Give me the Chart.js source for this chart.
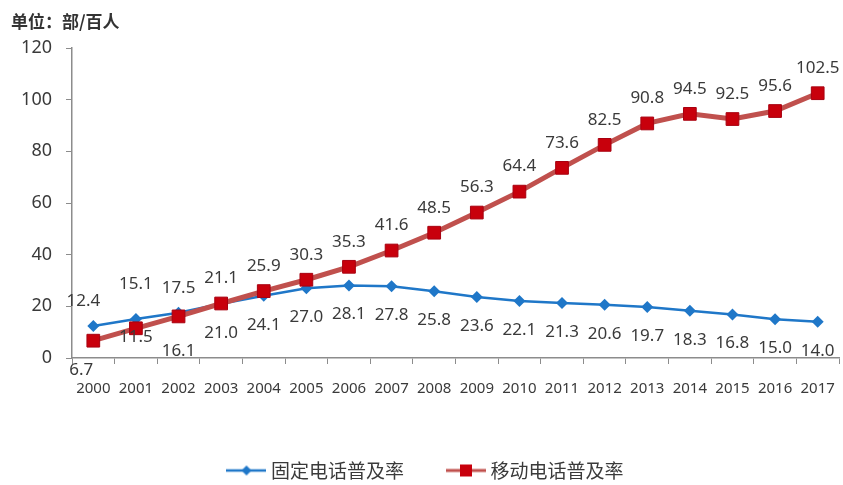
<!DOCTYPE html>
<html>
<head>
<meta charset="utf-8">
<script src="https://cdn.jsdelivr.net/npm/chart.js@4/dist/chart.umd.min.js"></script>
<style>
  html, body { margin: 0; padding: 0; background: #fff; }
  #wrap { width: 843px; height: 485px; position: relative; }
</style>
</head>
<body>
<div id="wrap"><canvas id="chart"></canvas></div>
<script>
// data
const years = ['2000', '2001', '2002', '2003', '2004', '2005', '2006', '2007', '2008',
  '2009', '2010', '2011', '2012', '2013', '2014', '2015', '2016', '2017'];
const fixedRate = [12.4, 15.1, 17.5, 21.0, 24.1, 27.0, 28.1, 27.8, 25.8,
  23.6, 22.1, 21.3, 20.6, 19.7, 18.3, 16.8, 15.0, 14.0];
const mobileRate = [6.7, 11.5, 16.1, 21.1, 25.9, 30.3, 35.3, 41.6, 48.5,
  56.3, 64.4, 73.6, 82.5, 90.8, 94.5, 92.5, 95.6, 102.5];
const seriesNames = ['固定电话普及率', '移动电话普及率'];
const yTicks = [0, 20, 40, 60, 80, 100, 120];

const blue = '#1f77c8';
const lineRed = '#c0504d';
const markRed = '#c8000c';
const textCol = '#3a3a3a';
const numFont = '"Noto Sans", "Liberation Sans", sans-serif';
const cjkFont = '"Noto Sans CJK SC", sans-serif';

// label placement: 'a' above, 'b' below, with a few hand nudges
const fixedPlace = years.map((y, i) => i < 3 ? 'a' : 'b');
const mobilePlace = years.map((y, i) => i < 3 ? 'b' : 'a');
const nudges = {
  '0-0': [-10, 0], '0-1': [0, -10],
  '1-0': [-12, 0], '1-1': [0, -20], '1-2': [0, 6]
};

// legend symbols: line with marker
function legendIcon(color, mark, shape) {
  const c = document.createElement('canvas');
  c.width = 40; c.height = 14;
  const g = c.getContext('2d');
  g.strokeStyle = color;
  g.lineWidth = shape === 'diamond' ? 2.5 : 3;
  g.beginPath(); g.moveTo(0, 7); g.lineTo(40, 7); g.stroke();
  g.fillStyle = mark;
  g.beginPath();
  if (shape === 'diamond') {
    g.moveTo(20, 2); g.lineTo(25, 7); g.lineTo(20, 12); g.lineTo(15, 7);
  } else {
    g.rect(14, 1, 12, 12);
  }
  g.closePath(); g.fill();
  return c;
}

const valueLabels = {
  id: 'valueLabels',
  afterDatasetsDraw(chart) {
    const ctx = chart.ctx;
    ctx.save();
    ctx.font = '17px ' + numFont;
    ctx.fillStyle = textCol;
    ctx.textAlign = 'center';
    ctx.textBaseline = 'middle';
    chart.data.datasets.forEach((ds, di) => {
      const meta = chart.getDatasetMeta(di);
      const place = di === 0 ? fixedPlace : mobilePlace;
      meta.data.forEach((pt, i) => {
        const n = nudges[di + '-' + i] || [0, 0];
        const dy = place[i] === 'a' ? -25 : 29;
        ctx.fillText(ds.data[i].toFixed(1), pt.x + n[0], pt.y + dy + n[1]);
      });
    });
    ctx.restore();
  }
};

const unitTitle = {
  id: 'unitTitle',
  afterDraw(chart) {
    const ctx = chart.ctx;
    ctx.save();
    ctx.font = 'bold 17px ' + cjkFont;
    ctx.fillStyle = '#333';
    ctx.textBaseline = 'middle';
    ctx.fillText('单位：部/百人', 11, 22);
    ctx.restore();
  }
};

new Chart(document.getElementById('chart'), {
  type: 'line',
  data: {
    labels: years,
    datasets: [{
      label: seriesNames[0],
      data: fixedRate,
      borderColor: blue,
      backgroundColor: blue,
      borderWidth: 2.5,
      pointStyle: 'rectRot',
      pointRadius: 6,
      pointBorderWidth: 0,
      pointBackgroundColor: blue,
      order: 2
    }, {
      label: seriesNames[1],
      data: mobileRate,
      borderColor: lineRed,
      backgroundColor: markRed,
      borderWidth: 5,
      pointStyle: 'rect',
      pointRadius: 9,
      pointBorderWidth: 1,
      pointBorderColor: '#a80010',
      pointBackgroundColor: markRed,
      order: 1
    }]
  },
  options: {
    responsive: true,
    maintainAspectRatio: false,
    animation: false,
    layout: { autoPadding: false, padding: { top: 48, right: 4, left: 16, bottom: -5 } },
    scales: {
      x: {
        offset: true,
        grid: { display: true, drawOnChartArea: false, drawTicks: true, tickLength: 6, offset: true, color: '#8c8c8c' },
        border: { display: true, color: '#8c8c8c', width: 1.5 },
        ticks: { color: textCol, font: { size: 15, family: numFont }, padding: 16, maxRotation: 0, autoSkip: false },
        afterFit(s) { s.height = 56; s.paddingLeft = 0; s.paddingRight = 0; }
      },
      y: {
        min: 0,
        max: 120,
        afterBuildTicks(s) { s.ticks = yTicks.map(v => ({ value: v })); },
        grid: { display: true, drawOnChartArea: false, drawTicks: true, tickLength: 6, color: '#8c8c8c' },
        border: { display: true, color: '#8c8c8c', width: 1.5 },
        ticks: { color: textCol, font: { size: 18, family: numFont }, padding: 14 },
        afterFit(s) { s.width = 56; }
      }
    },
    plugins: {
      legend: {
        position: 'bottom',
        labels: {
          usePointStyle: true,
          pointStyleWidth: 30,
          padding: 47,
          color: textCol,
          font: { size: 19, family: cjkFont },
          sort: (a, b) => a.datasetIndex - b.datasetIndex,
          generateLabels(chart) {
            return [
              { text: seriesNames[0], pointStyle: legendIcon(blue, blue, 'diamond'), datasetIndex: 0, fontColor: textCol, lineWidth: 0, strokeStyle: 'transparent', fillStyle: 'transparent' },
              { text: seriesNames[1], pointStyle: legendIcon(lineRed, markRed, 'square'), datasetIndex: 1, fontColor: textCol, lineWidth: 0, strokeStyle: 'transparent', fillStyle: 'transparent' }
            ];
          }
        }
      },
      tooltip: { enabled: false }
    }
  },
  plugins: [valueLabels, unitTitle]
});
</script>
</body>
</html>
